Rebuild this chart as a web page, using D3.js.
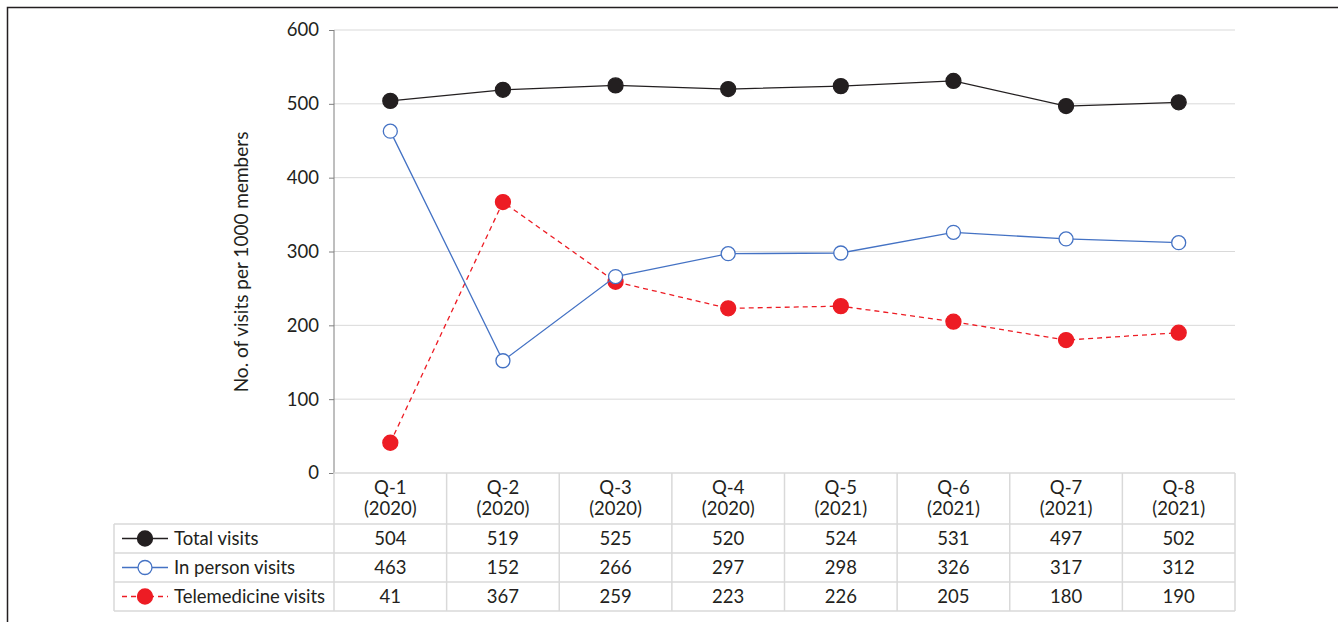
<!DOCTYPE html>
<html>
<head>
<meta charset="utf-8">
<script src="https://cdn.jsdelivr.net/npm/d3@7"></script>
<style>
  body { margin: 0; background: #fff; }
  svg text { font-family: Lato, "Open Sans", sans-serif; fill: #231f20; }
</style>
</head>
<body>
<svg id="chart" width="1338" height="622"></svg>
<script>
const quarters = ['Q-1', 'Q-2', 'Q-3', 'Q-4', 'Q-5', 'Q-6', 'Q-7', 'Q-8'];
const years = ['2020', '2020', '2020', '2020', '2021', '2021', '2021', '2021'];
const totalVisits = [504, 519, 525, 520, 524, 531, 497, 502];
const inPersonVisits = [463, 152, 266, 297, 298, 326, 317, 312];
const telemedicineVisits = [41, 367, 259, 223, 226, 205, 180, 190];
const yTicks = [0, 100, 200, 300, 400, 500, 600];

const series = [
  { name: 'Total visits', values: totalVisits, color: '#231f20', fill: '#231f20', dash: null, r: 7.5 },
  { name: 'In person visits', values: inPersonVisits, color: '#4472c4', fill: '#fff', dash: null, r: 7 },
  { name: 'Telemedicine visits', values: telemedicineVisits, color: '#ed1c24', fill: '#ed1c24', dash: '5,4', r: 7.5 }
];

const fontSize = 18.5;
const svg = d3.select('#chart');
const plot = { left: 334, right: 1235, top: 30, bottom: 473 };
const tableLeft = 114;
const headerBottom = 524;
const rowH = 29;

// frame
svg.append('path')
  .attr('d', `M7.5,622 V7.5 H1338`)
  .attr('fill', 'none')
  .attr('stroke', '#231f20')
  .attr('stroke-width', 1.5);

const x = d3.scaleBand().domain(d3.range(quarters.length)).range([plot.left, plot.right]);
const y = d3.scaleLinear().domain([0, 600]).range([plot.bottom, plot.top]);

// gridlines
svg.append('g')
  .selectAll('line')
  .data(yTicks.filter(d => d > 0))
  .join('line')
  .attr('x1', plot.left).attr('x2', plot.right)
  .attr('y1', d => y(d)).attr('y2', d => y(d))
  .attr('stroke', '#d9d9d9').attr('stroke-width', 1);

// y axis
const yAxis = svg.append('g')
  .attr('transform', `translate(${plot.left},0)`)
  .call(d3.axisLeft(y).tickValues(yTicks).tickSize(5).tickPadding(10));
yAxis.select('.domain').attr('stroke', '#7f7f7f').attr('d', `M0,${plot.bottom}V${plot.top}`);
yAxis.selectAll('.tick line').attr('stroke', '#7f7f7f');
yAxis.selectAll('.tick text').attr('font-size', fontSize).style('font-family', 'Lato, sans-serif').attr('fill', '#231f20');

svg.append('text')
  .attr('transform', `translate(248,262) rotate(-90)`)
  .attr('text-anchor', 'middle')
  .attr('font-size', 19)
  .text('No. of visits per 1000 members');

// table grid
const rowY = d3.scaleBand().domain(d3.range(series.length)).range([headerBottom, headerBottom + rowH * series.length]);
const grid = svg.append('g').attr('stroke', '#d9d9d9').attr('stroke-width', 1.5);
grid.selectAll('.hv')
  .data(d3.range(quarters.length + 1))
  .join('line')
  .attr('x1', i => i < quarters.length ? x(i) : plot.right)
  .attr('x2', i => i < quarters.length ? x(i) : plot.right)
  .attr('y1', plot.bottom).attr('y2', rowY.range()[1]);
grid.append('line')
  .attr('x1', tableLeft).attr('x2', tableLeft)
  .attr('y1', headerBottom).attr('y2', rowY.range()[1]);
grid.append('line')
  .attr('x1', plot.left).attr('x2', plot.right)
  .attr('y1', plot.bottom).attr('y2', plot.bottom);
grid.selectAll('.hr')
  .data(d3.range(series.length + 1))
  .join('line')
  .attr('x1', tableLeft).attr('x2', plot.right)
  .attr('y1', i => headerBottom + i * rowH).attr('y2', i => headerBottom + i * rowH);

// header labels
const head = svg.append('g');
quarters.forEach((q, i) => {
  const cx = x(i) + x.bandwidth() / 2;
  const t = head.append('text')
    .attr('text-anchor', 'middle')
    .attr('font-size', fontSize);
  t.append('tspan').attr('x', cx).attr('y', 494).text(q);
  t.append('tspan').attr('x', cx).attr('y', 515).text(`(${years[i]})`);
});

// table rows
series.forEach((s, si) => {
  const cy = rowY(si) + rowH / 2;
  const g = svg.append('g');
  g.append('line')
    .attr('x1', 122).attr('x2', 168)
    .attr('y1', cy).attr('y2', cy)
    .attr('stroke', s.color).attr('stroke-width', 1.3)
    .attr('stroke-dasharray', s.dash);
  g.append('circle')
    .attr('cx', 145).attr('cy', cy).attr('r', s.r)
    .attr('fill', s.fill).attr('stroke', s.color).attr('stroke-width', 1.3);
  g.append('text')
    .attr('x', 174).attr('y', cy + 6.5)
    .attr('font-size', fontSize)
    .text(s.name);
  g.selectAll('.val')
    .data(s.values)
    .join('text')
    .attr('x', (d, i) => x(i) + x.bandwidth() / 2)
    .attr('y', cy + 6.5)
    .attr('text-anchor', 'middle')
    .attr('font-size', fontSize)
    .text(d => d);
});

// lines and markers
const line = d3.line().x((d, i) => x(i) + x.bandwidth() / 2).y(d => y(d));
series.slice().reverse().forEach(s => {
  svg.append('path')
    .datum(s.values)
    .attr('d', line)
    .attr('fill', 'none')
    .attr('stroke', s.color)
    .attr('stroke-width', 1.3)
    .attr('stroke-dasharray', s.dash);
  svg.append('g')
    .selectAll('circle')
    .data(s.values)
    .join('circle')
    .attr('cx', (d, i) => x(i) + x.bandwidth() / 2)
    .attr('cy', d => y(d))
    .attr('r', s.r)
    .attr('fill', s.fill)
    .attr('stroke', s.color)
    .attr('stroke-width', 1.3);
});
</script>
</body>
</html>
